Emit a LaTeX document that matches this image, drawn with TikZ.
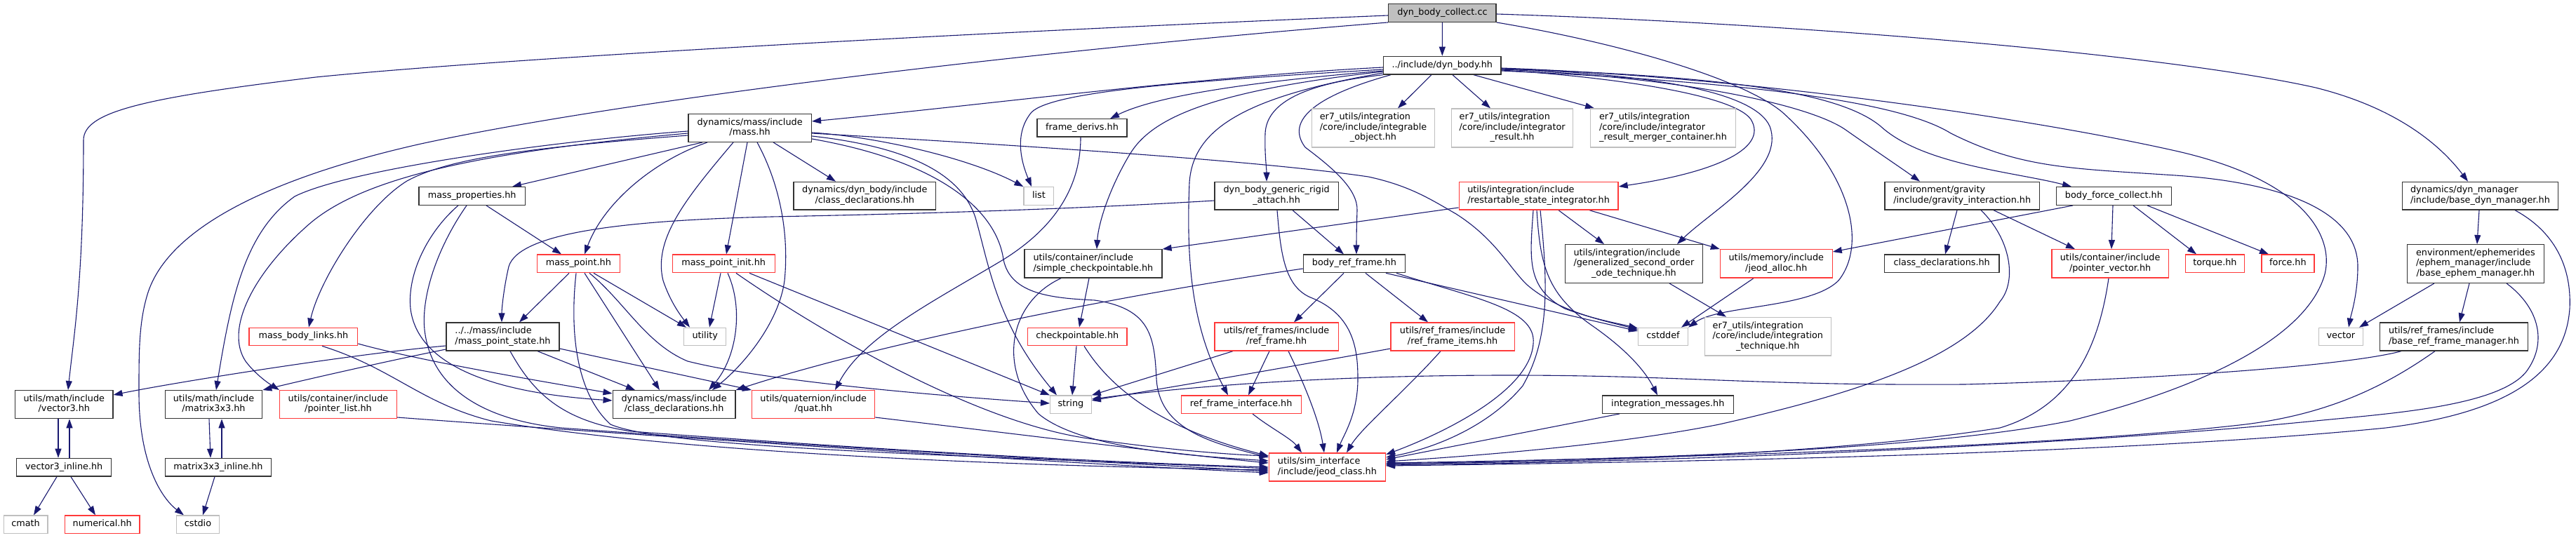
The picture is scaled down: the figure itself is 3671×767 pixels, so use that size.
\documentclass[tikz,border=0pt]{standalone}
\usepackage{fontspec}
\setmainfont{DejaVu Sans}
\usetikzlibrary{arrows.meta}
\definecolor{edgec}{HTML}{191970}
\definecolor{redc}{HTML}{FF3A3A}
\definecolor{greyc}{HTML}{BFBFBF}
\definecolor{blkc}{HTML}{333333}
\pgfdeclarelayer{bglayer}
\pgfdeclarelayer{edgelayer}
\pgfsetlayers{bglayer,edgelayer,main}
\newcommand{\dlab}[2]{\begin{tabular}{@{}l@{}}#1\\\multicolumn{1}{@{}c@{}}{#2}\end{tabular}}
\newcommand{\slab}[1]{\begin{tabular}{@{}c@{}}#1\end{tabular}}
\tikzset{
 nbase/.style={rectangle, inner sep=0pt, line width=1.3pt, fill=white, font=\fontsize{12.8pt}{14.5pt}\selectfont},
 blk/.style={nbase, draw=blkc},
 rd/.style={nbase, draw=redc},
 gr/.style={nbase, draw=greyc},
 root/.style={nbase, draw=blkc, fill=greyc},
 sz/.style n args={2}{minimum width=#1pt, minimum height=#2pt},
 e/.style={draw=edgec, line width=1.1pt, -{Triangle[length=13pt,width=9pt]}},
}
\begin{document}
\begin{tikzpicture}[x=1pt,y=-1pt]
\useasboundingbox (0,0) rectangle (3671,767);
\begin{pgfonlayer}{bglayer}\fill[white] (0,0) rectangle (3671,767);\end{pgfonlayer}
% row 0-2
\node[root, sz={153.4}{25.6}] (collect) at (2055.4,18.5) {\slab{dyn\_body\_collect.cc}};
\node[blk, sz={167.3}{25.7}] (dynbody) at (2055.3,93.2) {\slab{../include/dyn\_body.hh}};
\node[blk, sz={175.5}{39.6}] (mass) at (1068.6,182.5) {\dlab{dynamics/mass/include}{/mass.hh}};
\node[blk, sz={128.1}{25.3}] (framederivs) at (1542,182.4) {\slab{frame\_derivs.hh}};
\node[gr, sz={174.8}{55}] (er7io) at (1957,182.5) {\dlab{er7\_utils/integration\\/core/include/integrable}{\_object.hh}};
\node[gr, sz={173.2}{55}] (er7ir) at (2155.1,182.5) {\dlab{er7\_utils/integration\\/core/include/integrator}{\_result.hh}};
\node[gr, sz={207}{55}] (er7irm) at (2370,182.5) {\dlab{er7\_utils/integration\\/core/include/integrator}{\_result\_merger\_container.hh}};
% row 3
\node[gr, sz={42.7}{25.6}] (list) at (1480.4,279.5) {\slab{list}};
\node[blk, sz={151.3}{25.6}] (massprops) at (672.7,279.5) {\slab{mass\_properties.hh}};
\node[blk, sz={202.6}{39.7}] (dbcd) at (1232.3,279.2) {\dlab{dynamics/dyn\_body/include}{/class\_declarations.hh}};
\node[blk, sz={176.2}{39.7}] (dbgra) at (1819.1,279.2) {\dlab{dyn\_body\_generic\_rigid}{\_attach.hh}};
\node[rd, sz={226.9}{39.7}] (rsi) at (2192.6,279.2) {\dlab{utils/integration/include}{/restartable\_state\_integrator.hh}};
\node[blk, sz={220.6}{39.7}] (gravint) at (2796.2,279.2) {\dlab{environment/gravity}{/include/gravity\_interaction.hh}};
\node[blk, sz={164.5}{25.6}] (bfc) at (3012.4,279.5) {\slab{body\_force\_collect.hh}};
\node[blk, sz={222.2}{39.7}] (bdm) at (3534.4,279.2) {\dlab{dynamics/dyn\_manager}{/include/base\_dyn\_manager.hh}};
% row 4
\node[rd, sz={118.2}{25.7}] (mp) at (824.4,375.9) {\slab{mass\_point.hh}};
\node[rd, sz={146}{25.7}] (mpi) at (1031.2,375.9) {\slab{mass\_point\_init.hh}};
\node[blk, sz={196.1}{40.3}] (scp) at (1557.9,375.9) {\dlab{utils/container/include}{/simple\_checkpointable.hh}};
\node[blk, sz={145.1}{25.7}] (brf) at (1929.9,375.9) {\slab{body\_ref\_frame.hh}};
\node[blk, sz={196.3}{54.6}] (gsoot) at (2328.4,376) {\dlab{utils/integration/include\\/generalized\_second\_order}{\_ode\_technique.hh}};
\node[rd, sz={159.7}{40.3}] (jalloc) at (2531.3,375.9) {\dlab{utils/memory/include}{/jeod\_alloc.hh}};
\node[blk, sz={163.3}{25.7}] (gcd) at (2767.2,375.9) {\slab{class\_declarations.hh}};
\node[rd, sz={166.4}{40.3}] (pvec) at (3007.1,375.9) {\dlab{utils/container/include}{/pointer\_vector.hh}};
\node[rd, sz={83.8}{25.7}] (torque) at (3156.4,375.9) {\slab{torque.hh}};
\node[rd, sz={75.1}{25.7}] (force) at (3260.4,375.9) {\slab{force.hh}};
\node[blk, sz={194.9}{54.6}] (bem) at (3527.9,376) {\dlab{environment/ephemerides\\/ephem\_manager/include}{/base\_ephem\_manager.hh}};
% row 5
\node[rd, sz={154.6}{25.4}] (mbl) at (432.4,480) {\slab{mass\_body\_links.hh}};
\node[blk, sz={160.9}{40}] (mps) at (716.5,480) {\dlab{../../mass/include}{/mass\_point\_state.hh}};
\node[gr, sz={59.8}{25.4}] (utility) at (1004.7,480) {\slab{utility}};
\node[rd, sz={141.6}{25.4}] (cp) at (1535.3,480) {\slab{checkpointable.hh}};
\node[rd, sz={176.2}{40}] (rf) at (1819.1,480) {\dlab{utils/ref\_frames/include}{/ref\_frame.hh}};
\node[rd, sz={176.3}{40}] (rfi) at (2070.1,480) {\dlab{utils/ref\_frames/include}{/ref\_frame\_items.hh}};
\node[gr, sz={70.8}{25.4}] (cstddef) at (2370,480) {\slab{cstddef}};
\node[gr, sz={179.9}{54.7}] (er7it) at (2519.3,479.7) {\dlab{er7\_utils/integration\\/core/include/integration}{\_technique.hh}};
\node[gr, sz={62.5}{25.4}] (vector) at (3335.9,480) {\slab{vector}};
\node[blk, sz={211.6}{40}] (brfm) at (3497,480) {\dlab{utils/ref\_frames/include}{/base\_ref\_frame\_manager.hh}};
% row 6
\node[blk, sz={139.2}{40}] (v3) at (91.3,576.7) {\dlab{utils/math/include}{/vector3.hh}};
\node[blk, sz={138.4}{40}] (m3) at (304.5,576.7) {\dlab{utils/math/include}{/matrix3x3.hh}};
\node[rd, sz={166.8}{40}] (plist) at (482,576.7) {\dlab{utils/container/include}{/pointer\_list.hh}};
\node[blk, sz={174.8}{40}] (mcd) at (960.6,576.7) {\dlab{dynamics/mass/include}{/class\_declarations.hh}};
\node[rd, sz={175}{40}] (quat) at (1159.2,576.7) {\dlab{utils/quaternion/include}{/quat.hh}};
\node[gr, sz={58.5}{25.3}] (string) at (1525.9,576.7) {\slab{string}};
\node[rd, sz={171}{25.3}] (rfint) at (1768.7,576.7) {\slab{ref\_frame\_interface.hh}};
\node[blk, sz={187.2}{25.3}] (imsg) at (2376.8,576.7) {\slab{integration\_messages.hh}};
% row 7-8
\node[blk, sz={134.9}{25.7}] (v3i) at (91.2,666.2) {\slab{vector3\_inline.hh}};
\node[blk, sz={151.4}{25.7}] (m3i) at (311,666.2) {\slab{matrix3x3\_inline.hh}};
\node[rd, sz={166.1}{40}] (jc) at (1891.4,666) {\dlab{utils/sim\_interface}{/include/jeod\_class.hh}};
\node[gr, sz={62.9}{25.7}] (cmath) at (36.6,747.9) {\slab{cmath}};
\node[rd, sz={106.4}{25.7}] (numerical) at (145.7,747.9) {\slab{numerical.hh}};
\node[gr, sz={60.9}{25.7}] (cstdio) at (282,747.9) {\slab{cstdio}};

\begin{pgfonlayer}{edgelayer}
% collect
\draw[e] (collect) -- (dynbody);
\draw[e] (collect.west |- 0,22) .. controls (1300,50) and (700,85) .. (450,110) .. controls (200,140) and (119,160) .. (119,200) .. controls (119,400) and (105,480) .. (v3.north -| 97,0);
\draw[e] (collect.south west) .. controls (1500,70) and (900,140) .. (600,205) .. controls (400,250) and (240,320) .. (210,420) .. controls (198,460) and (198,500) .. (198,560) .. controls (198,660) and (230,710) .. (cstdio.north -| 262,0);
\draw[e] (collect.east |- 0,20) .. controls (2600,35) and (3100,80) .. (3300,125) .. controls (3420,155) and (3480,210) .. (bdm.north -| 3517,0);
\draw[e] (collect.south east) .. controls (2300,60) and (2480,110) .. (2540,160) .. controls (2640,250) and (2660,350) .. (2620,400) .. controls (2580,440) and (2450,435) .. (cstddef.north east);
% dynbody left
\draw[e] (dynbody.west |- 0,96) .. controls (1700,110) and (1400,150) .. (mass.east |- 0,173);
\draw[e] (dynbody.west |- 0,99) .. controls (1700,115) and (1500,130) .. (1470,160) .. controls (1445,190) and (1455,230) .. (list.north -| 1470,0);
\draw[e] (dynbody.west |- 0,101) .. controls (1800,115) and (1650,135) .. (framederivs.north -| 1582,0);
\draw[e] (dynbody.west |- 0,102) .. controls (1720,130) and (1640,170) .. (1610,220) .. controls (1580,270) and (1565,320) .. (scp.north -| 1563,0);
\draw[e] (dynbody.west |- 0,104) .. controls (1760,140) and (1700,190) .. (1695,260) .. controls (1690,380) and (1700,470) .. (rfint.north -| 1750,0);
\draw[e] (dynbody.south west) .. controls (1850,120) and (1805,150) .. (1803,190) .. controls (1802,220) and (1805,240) .. (dbgra.north -| 1805,0);
\draw[e] (dynbody.south -| 1982,0) .. controls (1880,135) and (1830,170) .. (1860,210) .. controls (1900,240) and (1935,270) .. (1934,300) .. controls (1933,330) and (1933,345) .. (brf.north -| 1933,0);
\draw[e] (dynbody.south -| 2040,0) -- (er7io.north -| 1992,0);
\draw[e] (dynbody.south -| 2070,0) -- (er7ir.north -| 2124,0);
\draw[e] (dynbody.south -| 2100,0) -- (er7irm.north -| 2272,0);
% dynbody right
\draw[e] (dynbody.east |- 0,100) .. controls (2300,110) and (2470,135) .. (2495,170) .. controls (2520,210) and (2450,245) .. (rsi.east |- 0,266);
\draw[e] (dynbody.east |- 0,98) .. controls (2350,105) and (2500,130) .. (2522,180) .. controls (2545,240) and (2440,300) .. (gsoot.north -| 2390,0);
\draw[e] (dynbody.east |- 0,99) .. controls (2400,110) and (2580,150) .. (2630,185) .. controls (2680,220) and (2710,240) .. (gravint.north -| 2736,0);
\draw[e] (dynbody.east |- 0,98) .. controls (2450,108) and (2620,130) .. (2680,180) .. controls (2740,235) and (2870,245) .. (bfc.north -| 2952,0);
\draw[e] (dynbody.east |- 0,97) .. controls (2500,110) and (2900,170) .. (3100,215) .. controls (3300,260) and (3330,350) .. (3310,400) .. controls (3280,480) and (3150,550) .. (2950,600) .. controls (2700,650) and (2200,655) .. (jc.east |- 0,662);
\draw[e] (dynbody.east |- 0,101) .. controls (2450,115) and (2700,140) .. (2780,190) .. controls (2880,240) and (2950,240) .. (3100,250) .. controls (3250,260) and (3360,300) .. (3360,380) .. controls (3360,420) and (3350,450) .. (vector.north -| 3347,0);
% mass
\draw[e] (mass.south -| 1001,0) -- (massprops.north -| 730,0);
\draw[e] (mass.south -| 1008,0) .. controls (930,230) and (860,290) .. (mp.north -| 833,0);
\draw[e] (mass.south -| 1045,0) .. controls (980,280) and (930,340) .. (945,400) .. controls (955,430) and (970,450) .. (utility.north -| 983,0);
\draw[e] (mass.south -| 1065,0) -- (mpi.north -| 1035,0);
\draw[e] (mass.south -| 1079,0) .. controls (1110,260) and (1125,330) .. (1118,400) .. controls (1110,460) and (1060,520) .. (mcd.north -| 1015,0);
\draw[e] (mass.south -| 1102,0) -- (dbcd.north -| 1191,0);
\draw[e] (mass.east |- 0,189) .. controls (1250,195) and (1380,225) .. (list.north west);
\draw[e] (mass.east |- 0,190) .. controls (1500,210) and (1800,230) .. (1950,252) .. controls (2010,265) and (2040,285) .. (2075,305) .. controls (2130,340) and (2150,380) .. (2175,405) .. controls (2220,445) and (2290,458) .. (cstddef.west |- 0,470);
\draw[e] (mass.east |- 0,194) .. controls (1300,210) and (1370,250) .. (1390,310) .. controls (1410,380) and (1420,460) .. (string.north -| 1506,0);
\draw[e] (mass.east |- 0,198) .. controls (1340,230) and (1420,300) .. (1430,370) .. controls (1440,420) and (1500,425) .. (1560,428) .. controls (1640,440) and (1645,480) .. (1648,540) .. controls (1652,610) and (1720,630) .. (jc.west |- 0,652);
\draw[e] (mass.west |- 0,187) .. controls (800,200) and (500,240) .. (420,280) .. controls (350,330) and (330,420) .. (m3.north -| 308,0);
\draw[e] (mass.west |- 0,190) .. controls (700,215) and (520,250) .. (440,320) .. controls (360,390) and (320,470) .. (350,515) .. controls (365,535) and (385,548) .. (plist.north west);
\draw[e] (mass.west |- 0,193) .. controls (760,210) and (640,225) .. (580,258) .. controls (520,295) and (455,400) .. (mbl.north -| 440,0);
% massprops
\draw[e] (massprops.south -| 693,0) -- (mp.north -| 800,0);
\draw[e] (massprops.south -| 653,0) .. controls (610,330) and (580,390) .. (585,440) .. controls (595,520) and (700,560) .. (mcd.west |- 0,571);
\draw[e] (massprops.south -| 665,0) .. controls (625,350) and (600,420) .. (605,470) .. controls (615,560) and (700,600) .. (800,610) .. controls (1200,640) and (1600,660) .. (jc.west |- 0,672);
% mp
\draw[e] (mp.south -| 811,0) -- (mps.north -| 740,0);
\draw[e] (mp.south -| 833,0) -- (mcd.north -| 940,0);
\draw[e] (mp.south -| 846,0) -- (utility.north -| 978,0);
\draw[e] (mp.south -| 840,0) .. controls (890,430) and (920,490) .. (980,515) .. controls (1100,545) and (1350,565) .. (string.west |- 0,575);
\draw[e] (mp.south -| 821,0) .. controls (812,470) and (820,560) .. (870,605) .. controls (950,640) and (1400,650) .. (jc.west |- 0,668);
% mpi
\draw[e] (mpi.south -| 1027,0) -- (utility.north -| 1011,0);
\draw[e] (mpi.south -| 1037,0) .. controls (1060,440) and (1050,510) .. (mcd.north -| 1010,0);
\draw[e] (mpi.south -| 1068,0) -- (string.north west);
\draw[e] (mpi.south -| 1049,0) .. controls (1150,460) and (1380,600) .. (1550,625) .. controls (1650,640) and (1750,648) .. (jc.west |- 0,650);
% mps
\draw[e] (mps.west |- 0,493) .. controls (500,505) and (250,545) .. (v3.east |- 0,563);
\draw[e] (mps.west |- 0,498) .. controls (550,515) and (420,545) .. (m3.north east);
\draw[e] (mps.south -| 766,0) -- (mcd.north -| 905,0);
\draw[e] (mps.east |- 0,497) -- (quat.north west);
\draw[e] (mps.south -| 727,0) .. controls (760,560) and (800,600) .. (900,615) .. controls (1300,645) and (1600,660) .. (jc.west |- 0,666);
% mbl, plist, quat
\draw[e] (mbl.east |- 0,490) .. controls (600,515) and (780,545) .. (mcd.west |- 0,561);
\draw[e] (mbl.south -| 459,0) .. controls (560,525) and (600,575) .. (700,600) .. controls (1000,650) and (1500,665) .. (jc.west |- 0,670);
\draw[e] (plist.east |- 0,595) .. controls (900,620) and (1500,660) .. (jc.west |- 0,674);
\draw[e] (quat.east |- 0,595) .. controls (1500,625) and (1700,650) .. (jc.west |- 0,660);
% frame derivs
\draw[e] (framederivs.south -| 1540,0) .. controls (1540,260) and (1510,320) .. (1430,370) .. controls (1330,430) and (1230,480) .. (quat.north -| 1190,0);
% brf
\draw[e] (brf.west |- 0,383) .. controls (1600,420) and (1250,490) .. (mcd.north east);
\draw[e] (brf.south -| 1915,0) -- (rf.north -| 1844,0);
\draw[e] (brf.south -| 1946,0) -- (rfi.north -| 2035,0);
\draw[e] (brf.south -| 1975,0) -- (cstddef.west |- 0,472);
\draw[e] (brf.south -| 1990,0) .. controls (2100,425) and (2190,440) .. (2185,490) .. controls (2180,560) and (2050,620) .. (jc.east |- 0,648);
% dbgra
\draw[e] (dbgra.south -| 1842,0) -- (brf.north -| 1915,0);
\draw[e] (dbgra.south -| 1820,0) .. controls (1825,360) and (1830,410) .. (1870,425) .. controls (1930,450) and (1935,500) .. (1935,540) .. controls (1935,590) and (1915,620) .. (jc.north -| 1905,0);
\draw[e] (dbgra.west |- 0,286) .. controls (1500,300) and (1250,306) .. (1100,309) .. controls (900,314) and (740,330) .. (725,380) .. controls (718,410) and (715,440) .. (mps.north -| 715,0);
% rsi
\draw[e] (rsi.west |- 0,296) -- (scp.north east);
\draw[e] (rsi.south -| 2221,0) -- (gsoot.north -| 2286,0);
\draw[e] (rsi.south -| 2265,0) -- (jalloc.north west);
\draw[e] (rsi.south -| 2185,0) .. controls (2180,370) and (2175,410) .. (2230,440) .. controls (2270,455) and (2310,462) .. (cstddef.west |- 0,468);
\draw[e] (rsi.south -| 2190,0) .. controls (2195,380) and (2205,420) .. (2270,465) .. controls (2320,500) and (2345,530) .. (imsg.north -| 2362,0);
\draw[e] (rsi.south -| 2195,0) .. controls (2205,400) and (2210,480) .. (2170,550) .. controls (2120,610) and (2040,640) .. (jc.east |- 0,652);
% gsoot, jalloc
\draw[e] (gsoot.south -| 2379,0) -- (er7it.north -| 2460,0);
\draw[e] (jalloc.south -| 2499,0) -- (cstddef.north -| 2396,0);
% cp, scp
\draw[e] (cp.south -| 1534,0) -- (string.north -| 1528,0);
\draw[e] (cp.south -| 1545,0) .. controls (1580,550) and (1650,610) .. (jc.west |- 0,650);
\draw[e] (scp.south -| 1552,0) -- (cp.north -| 1538,0);
\draw[e] (scp.south -| 1512,0) .. controls (1440,430) and (1420,520) .. (1480,590) .. controls (1540,640) and (1700,650) .. (jc.west |- 0,657);
% rf, rfi, rfint, imsg
\draw[e] (rf.south -| 1809,0) -- (rfint.north -| 1779,0);
\draw[e] (rf.south -| 1757,0) -- (string.north east);
\draw[e] (rf.south -| 1836,0) .. controls (1860,550) and (1880,600) .. (jc.north -| 1887,0);
\draw[e] (rfi.west |- 0,497) .. controls (1800,530) and (1650,555) .. (string.east |- 0,571);
\draw[e] (rfi.south -| 2053,0) .. controls (2000,560) and (1940,610) .. (jc.north -| 1919,0);
\draw[e] (rfint.south -| 1785,0) .. controls (1810,610) and (1840,625) .. (jc.north -| 1855,0);
\draw[e] (imsg.south -| 2308,0) -- (jc.east |- 0,655);
% gravint
\draw[e] (gravint.south -| 2789,0) -- (gcd.north -| 2772,0);
\draw[e] (gravint.south -| 2841,0) -- (pvec.north -| 2957,0);
\draw[e] (gravint.south -| 2823,0) .. controls (2865,340) and (2875,400) .. (2850,430) .. controls (2800,510) and (2650,560) .. (2450,605) .. controls (2300,635) and (2100,650) .. (jc.east |- 0,658);
% bfc
\draw[e] (bfc.south -| 2954,0) -- (jalloc.east |- 0,359);
\draw[e] (bfc.south -| 3011,0) -- (pvec.north -| 3009,0);
\draw[e] (bfc.south -| 3040,0) -- (torque.north -| 3130,0);
\draw[e] (bfc.south -| 3060,0) -- (force.north -| 3233,0);
% pvec
\draw[e] (pvec.south -| 3005,0) .. controls (2990,500) and (2950,580) .. (2850,610) .. controls (2600,650) and (2200,660) .. (jc.east |- 0,661);
% bdm, bem, brfm
\draw[e] (bdm.south -| 3533,0) -- (bem.north -| 3530,0);
\draw[e] (bdm.south -| 3584,0) .. controls (3640,330) and (3665,380) .. (3662,440) .. controls (3655,540) and (3560,590) .. (3400,610) .. controls (3000,650) and (2300,660) .. (jc.east |- 0,664);
\draw[e] (bem.south -| 3469,0) -- (vector.north -| 3362,0);
\draw[e] (bem.south -| 3519,0) -- (brfm.north -| 3505,0);
\draw[e] (bem.south -| 3572,0) .. controls (3620,440) and (3630,490) .. (3600,530) .. controls (3560,580) and (3400,590) .. (3300,600) .. controls (2900,640) and (2300,660) .. (jc.east |- 0,663);
\draw[e] (brfm.south -| 3422,0) .. controls (3350,520) and (3100,540) .. (2800,548) .. controls (2500,550) and (2400,535) .. (2150,535) .. controls (1900,535) and (1700,550) .. (string.east |- 0,569);
\draw[e] (brfm.south -| 3470,0) .. controls (3400,550) and (3320,590) .. (3200,605) .. controls (2900,640) and (2300,655) .. (jc.east |- 0,660);
% math
\draw[e] (v3.south -| 83,0) -- (v3i.north -| 83,0);
\draw[e] (v3i.north -| 99,0) -- (v3.south -| 99,0);
\draw[e] (v3i.south -| 81,0) -- (cmath.north -| 48,0);
\draw[e] (v3i.south -| 101,0) -- (numerical.north -| 136,0);
\draw[e] (m3.south -| 298,0) -- (m3i.north -| 300,0);
\draw[e] (m3i.north -| 316,0) -- (m3.south -| 316,0);
\draw[e] (m3i.south -| 306,0) -- (cstdio.north -| 289,0);
\end{pgfonlayer}
\end{tikzpicture}
\end{document}
